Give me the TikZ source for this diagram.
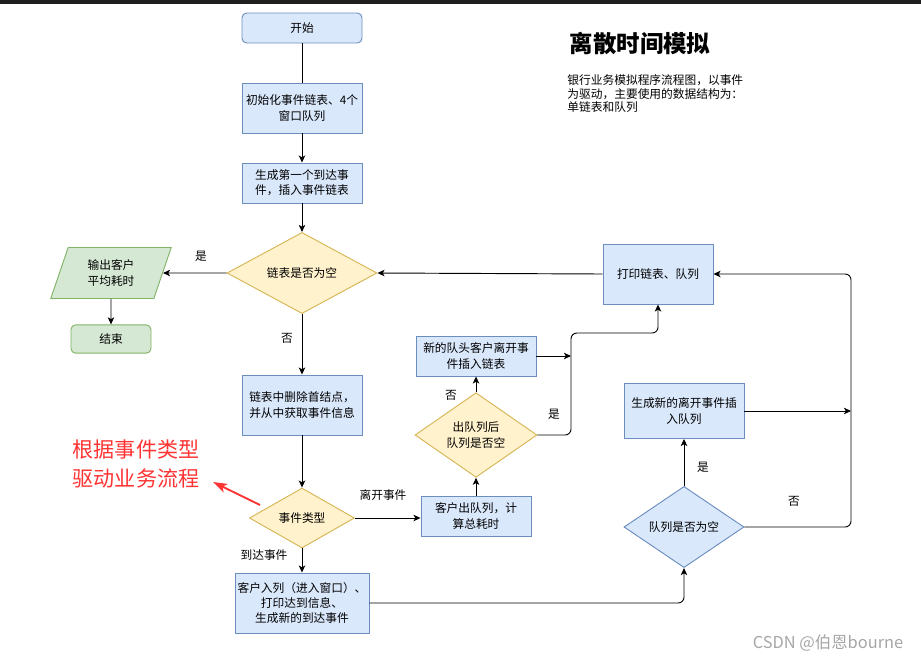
\documentclass[tikz,border=0pt]{standalone}
\usepackage{fontspec}
\newfontfamily\cjk{Noto Sans CJK SC}
\usepackage{xcolor}
\usetikzlibrary{shapes.geometric}
\usetikzlibrary{arrows.meta}
\definecolor{boxblue}{HTML}{DAE8FC}
\definecolor{lineblue}{HTML}{6C8EBF}
\definecolor{boxyellow}{HTML}{FFF2CC}
\definecolor{lineyellow}{HTML}{D6B656}
\definecolor{boxgreen}{HTML}{D5E8D4}
\definecolor{linegreen}{HTML}{82B366}
\definecolor{notered}{HTML}{FF3333}
\definecolor{topbar}{HTML}{1E1E1E}
\tikzset{
    procbox/.style={rectangle, draw=lineblue, fill=boxblue, align=center, inner sep=1pt},
    termbox/.style={procbox, rounded corners=4pt},
    decision/.style={diamond, draw=lineyellow, fill=boxyellow, align=center, inner sep=0pt},
    decisionblue/.style={diamond, draw=lineblue, fill=boxblue, align=center, inner sep=0pt},
    iobox/.style={trapezium, trapezium left angle=70, trapezium right angle=110,
        trapezium stretches=true, draw=linegreen, fill=boxgreen, align=center, inner sep=0pt},
    flow/.style={->},
    bendflow/.style={->, rounded corners=5pt},
}
\newcommand{\flowlabel}[4]{ % Takes node name, x coord, y coord, label text as arguments
    \node (#1) at (#2, #3) {#4};
}

\begin{document}
\begin{tikzpicture}[x=0.03cm, y=-0.03cm, line width=0.8pt,
        font=\cjk\fontsize{10}{13}\selectfont,
        >={Stealth[length=6pt, width=5.5pt, inset=1.5pt]}]
    \useasboundingbox (0,0) rectangle (921,661);
    \fill[topbar] (0,0) rectangle (921,3.5);

    % Main column
    \node[termbox, minimum width=3.6cm, minimum height=0.9cm] (start) at (302,28) {开始};
    \node[procbox, minimum width=3.6cm, minimum height=1.5cm] (init) at (302,108) {初始化事件链表、4个\\窗口队列};
    \node[procbox, minimum width=3.6cm, minimum height=1.2cm] (gen) at (302,183) {生成第一个到达事\\件，插入事件链表};
    \node[decision, minimum width=4.5cm, minimum height=2.4cm] (listEmpty) at (302,273) {链表是否为空};
    \node[procbox, minimum width=3.6cm, minimum height=1.8cm] (del) at (302,405) {链表中删除首结点，\\并从中获取事件信息};
    \node[decision, minimum width=3.15cm, minimum height=1.8cm] (type) at (302,518) {事件类型};
    \node[procbox, minimum width=4.02cm, minimum height=1.8cm] (arrive) at (302,603) {客户入列（进入窗口）、\\打印达到信息、\\生成新的到达事件};

    % Exit branch
    \node[iobox, minimum width=3.63cm, minimum height=1.53cm] (output) at (111,273) {输出客户\\平均耗时};
    \node[termbox, draw=linegreen, fill=boxgreen, minimum width=2.4cm, minimum height=0.85cm] (finish) at (111,339) {结束};

    % Departure branch
    \node[procbox, minimum width=3.3cm, minimum height=1.2cm] (dequeue) at (476,516) {客户出队列，计\\算总耗时};
    \node[decision, minimum width=3.66cm, minimum height=1.8cm] (qAfter) at (476,435) {出队列后\\队列是否空};
    \node[procbox, minimum width=3.6cm, minimum height=1.2cm] (newHead) at (476,356) {新的队头客户离开事\\件插入链表};
    \node[procbox, minimum width=3.3cm, minimum height=1.8cm] (print) at (658,274) {打印链表、队列};

    % Arrival branch
    \node[decisionblue, minimum width=3.6cm, minimum height=2.4cm] (qEmpty) at (684,527) {队列是否为空};
    \node[procbox, minimum width=3.6cm, minimum height=1.65cm] (newLeave) at (684,411) {生成新的离开事件插\\入队列};

    % Rails
    \coordinate (railA) at (571,333);
    \coordinate (railB) at (851,274);

    % Connectors
    \draw (start) -- (init);
    \draw[flow] (init) -- (gen);
    \draw[flow] (gen) -- (listEmpty);
    \draw[flow] (listEmpty) -- (output);
    \draw[flow] (output) -- (finish);
    \draw[flow] (listEmpty) -- (del);
    \draw[flow] (del) -- (type);
    \draw[flow] (type) -- (arrive);
    \draw[flow] (type.east) -- (dequeue.west |- type.east);
    \draw[flow] (dequeue) -- (qAfter);
    \draw[flow] (qAfter) -- (newHead);
    \draw[bendflow] (qAfter.east) -| (railA) -| (print.south);
    \draw[flow] (newHead.east) -- (newHead.east -| railA);
    \draw[bendflow] (arrive.east) -| (qEmpty.south);
    \draw[flow] (qEmpty) -- (newLeave);
    \draw[flow] (newLeave.east) -- (newLeave.east -| railB);
    \draw[bendflow] (qEmpty.east) -| (railB) -- (print.east);
    \draw[flow] (print.west) -- (listEmpty.east);

    % Edge labels
    \flowlabel{lblYesOut}{201}{256}{是}
    \flowlabel{lblNoDel}{287}{338}{否}
    \flowlabel{lblLeave}{383}{495}{离开事件}
    \flowlabel{lblArrive}{264}{555}{到达事件}
    \flowlabel{lblNoHead}{451}{395}{否}
    \flowlabel{lblYesPrint}{554}{414}{是}
    \flowlabel{lblYesLeave}{703}{467}{是}
    \flowlabel{lblNoRail}{794}{501}{否}

    % Title and notes
    \node[font=\cjk\fontsize{20}{24}\selectfont\bfseries] (title) at (640,43) {离散时间模拟};
    \node[anchor=north west, align=left, inner sep=0pt, font=\cjk\fontsize{10}{11.5}\selectfont] (desc) at (567,74.5)
        {银行业务模拟程序流程图，以事件\\为驱动，主要使用的数据结构为：\\单链表和队列};
    \node[text=notered, align=center, font=\cjk\fontsize{18}{24}\selectfont] (note) at (136,464) {根据事件类型\\驱动业务流程};
    \coordinate (noteTail) at (260,505);
    \coordinate (noteTip) at (213,482);
    \draw[notered, line width=1.6pt, -{Stealth[length=12pt, width=8pt, inset=3pt]}] (noteTail) -- (noteTip);
    \node[text=gray!70, font=\cjk\fontsize{14}{16}\selectfont] (mark) at (828,643) {CSDN @伯恩bourne};
\end{tikzpicture}
\end{document}
